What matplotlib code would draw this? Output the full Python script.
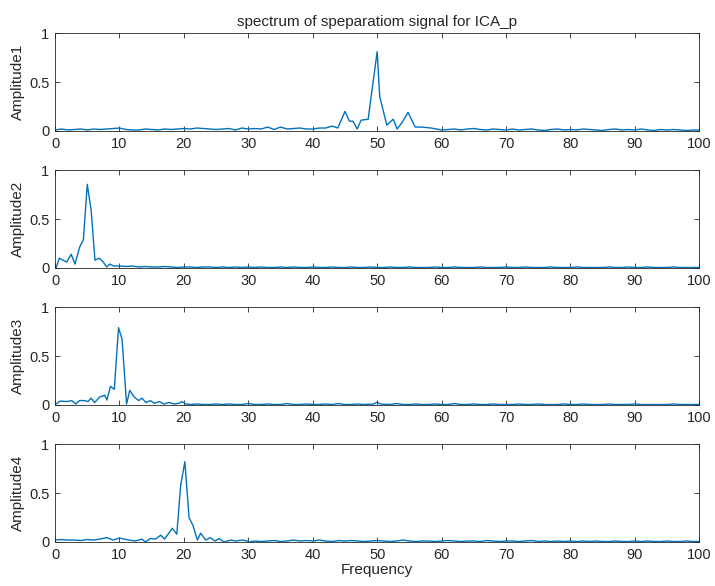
import matplotlib
matplotlib.use("Agg")
import matplotlib.pyplot as plt

# spectrum of separated signals
freq1 = list(range(0, 44)) + [43.9, 45.0, 45.7, 46.25, 46.9, 47.5, 48.6, 50.0, 50.4,
                              51.5, 52.5, 53.1, 53.8, 54.8, 55.9, 56.9, 58.4, 60.0] + list(range(61, 101))
amp1 = [0.01, 0.02, 0.01, 0.015, 0.02, 0.01, 0.02, 0.015, 0.02, 0.025, 0.03, 0.015,
        0.01, 0.01, 0.02, 0.015, 0.01, 0.02, 0.015, 0.02, 0.025, 0.02, 0.03, 0.025,
        0.02, 0.015, 0.02, 0.025, 0.01, 0.03, 0.02, 0.025, 0.02, 0.04, 0.015, 0.04,
        0.02, 0.025, 0.03, 0.02, 0.02, 0.03, 0.03, 0.05,
        0.03, 0.20, 0.10, 0.10, 0.02, 0.11, 0.12, 0.81, 0.35,
        0.06, 0.12, 0.02, 0.08, 0.19, 0.04, 0.04, 0.03, 0.01,
        0.015, 0.02, 0.01, 0.02, 0.025, 0.015, 0.01, 0.02, 0.015, 0.01,
        0.02, 0.01, 0.015, 0.02, 0.01, 0.005, 0.015, 0.02, 0.01, 0.015,
        0.01, 0.02, 0.015, 0.01, 0.005, 0.015, 0.02, 0.01, 0.015, 0.01,
        0.02, 0.01, 0.005, 0.015, 0.01, 0.015, 0.01, 0.005, 0.01, 0.01]

freq2 = [0.15, 0.66, 1.8, 2.5, 3.1, 3.8, 4.4, 5.0, 5.6, 6.2, 6.85, 7.5, 8.0, 8.5, 9.1,
         10.2] + list(range(11, 101))
amp2 = [0.0, 0.10, 0.06, 0.14, 0.04, 0.21, 0.29, 0.855, 0.59, 0.08, 0.10, 0.06, 0.01,
        0.04, 0.02, 0.02,
        0.015, 0.02, 0.01, 0.015, 0.01, 0.01, 0.015, 0.01, 0.005, 0.01,
        0.01, 0.005, 0.01, 0.01, 0.005, 0.01, 0.005, 0.01, 0.005, 0.01,
        0.005, 0.01, 0.005, 0.005, 0.01, 0.005, 0.01, 0.005, 0.005, 0.01,
        0.005, 0.005, 0.01, 0.005, 0.005, 0.01, 0.005, 0.005, 0.01, 0.005,
        0.005, 0.01, 0.005, 0.005, 0.01, 0.005, 0.005, 0.005, 0.01, 0.005,
        0.005, 0.01, 0.005, 0.005, 0.005, 0.01, 0.005, 0.005, 0.005, 0.01,
        0.005, 0.005, 0.01, 0.005, 0.005, 0.005, 0.01, 0.005, 0.005, 0.005,
        0.01, 0.005, 0.005, 0.005, 0.005, 0.01, 0.005, 0.005, 0.01, 0.005,
        0.005, 0.01, 0.005, 0.005, 0.005, 0.01, 0.005, 0.005, 0.005, 0.005]

freq3 = [0.15, 0.8, 1.8, 2.6, 3.2, 3.8, 4.6, 5.1, 5.6, 6.15, 6.9, 7.7, 8.05, 8.6, 9.2,
         9.85, 10.4, 11.1, 11.6, 12.3, 13.0, 13.5, 14.1, 14.8, 15.4, 16.2, 16.9, 17.7,
         18.5, 19.2, 19.7, 20.3] + list(range(21, 49)) + [49.5, 50.0, 50.5] + list(range(52, 101))
amp3 = [0.01, 0.04, 0.035, 0.045, 0.01, 0.045, 0.045, 0.035, 0.07, 0.025, 0.08, 0.10,
        0.05, 0.19, 0.16, 0.79, 0.67, 0.01, 0.15, 0.08, 0.045, 0.07, 0.025, 0.045,
        0.017, 0.035, 0.01, 0.025, 0.01, 0.017, 0.035, 0.01,
        0.005, 0.01, 0.005, 0.005, 0.01, 0.005, 0.01, 0.005, 0.005, 0.015,
        0.005, 0.005, 0.01, 0.005, 0.005, 0.015, 0.005, 0.005, 0.01, 0.005,
        0.005, 0.01, 0.005, 0.015, 0.005, 0.005, 0.01, 0.005,
        0.01, 0.03, 0.01,
        0.005, 0.015, 0.005, 0.005, 0.01, 0.005, 0.005, 0.01, 0.005, 0.005,
        0.015, 0.005, 0.005, 0.01, 0.005, 0.005, 0.01, 0.005, 0.005, 0.005,
        0.01, 0.005, 0.005, 0.01, 0.005, 0.005, 0.005, 0.01, 0.005, 0.005,
        0.01, 0.005, 0.005, 0.005, 0.01, 0.005, 0.005, 0.005, 0.01, 0.005,
        0.005, 0.005, 0.005, 0.005, 0.01, 0.005, 0.005, 0.005, 0.005]

freq4 = list(range(0, 11)) + [11.45, 12.5, 13.5, 14.0, 14.8, 15.6, 16.4, 17.0, 18.2,
                              18.9, 19.5, 20.15, 20.8, 21.4, 22.1, 22.6, 23.4, 24.1,
                              24.8, 25.5, 26.2, 27.3, 28.0, 29.1, 29.8, 30.1] + list(range(31, 101))
amp4 = [0.02, 0.025, 0.02, 0.02, 0.015, 0.025, 0.02, 0.03, 0.045, 0.02, 0.04,
        0.02, 0.01, 0.03, 0.0, 0.035, 0.03, 0.07, 0.03, 0.14,
        0.08, 0.58, 0.82, 0.25, 0.17, 0.02, 0.09, 0.02, 0.045,
        0.01, 0.035, 0.0, 0.02, 0.01, 0.02, 0.01, 0.0,
        0.01, 0.005, 0.01, 0.015, 0.005, 0.01, 0.02, 0.01, 0.015, 0.01,
        0.02, 0.01, 0.005, 0.015, 0.01, 0.015, 0.01, 0.005, 0.01, 0.015,
        0.01, 0.005, 0.01, 0.02, 0.01, 0.005, 0.01, 0.01, 0.005, 0.01,
        0.015, 0.01, 0.005, 0.01, 0.01, 0.005, 0.015, 0.01, 0.005, 0.01,
        0.01, 0.005, 0.01, 0.015, 0.005, 0.01, 0.005, 0.01, 0.005, 0.01,
        0.005, 0.01, 0.005, 0.01, 0.005, 0.005, 0.01, 0.005, 0.005, 0.01,
        0.005, 0.01, 0.005, 0.005, 0.01, 0.005, 0.005, 0.01, 0.005, 0.005]

series = [(freq1, amp1), (freq2, amp2), (freq3, amp3), (freq4, amp4)]
ylabels = ["Amplitude1", "Amplitude2", "Amplitude3", "Amplitude4"]
xticks = list(range(0, 101, 10))
yticks = [0, 0.5, 1]
ytick_labels = ["0", "0.5", "1"]

plt.rcParams["font.family"] = ["Liberation Sans", "DejaVu Sans"]
text_color = "#262626"

fig = plt.figure(figsize=(7.15, 5.86), dpi=100)
bottoms = [0.7765, 0.5427, 0.3089, 0.0751]

for i, ((f, a), label) in enumerate(zip(series, ylabels)):
    ax = fig.add_axes([0.077, bottoms[i], 0.901, 0.167])
    ax.plot(f, a, color="#0072BD", linewidth=1.0)
    ax.set_xlim(0, 100)
    ax.set_ylim(0, 1)
    ax.set_xticks(xticks)
    ax.set_yticks(yticks)
    ax.set_yticklabels(ytick_labels)
    ax.tick_params(direction="in", top=True, right=True, length=3.5, width=0.6,
                   labelsize=10.5, colors=text_color, pad=4)
    for side in ax.spines.values():
        side.set_color(text_color)
        side.set_linewidth(0.6)
    ax.set_ylabel(label, fontsize=11, color=text_color, labelpad=3)
    if i == 0:
        ax.set_title("spectrum of speparatiom signal for ICA_p", fontsize=11,
                     color=text_color, pad=5)
    if i == 3:
        ax.set_xlabel("Frequency", fontsize=11, color=text_color, labelpad=1)

fig.savefig("out.png", dpi=100)
